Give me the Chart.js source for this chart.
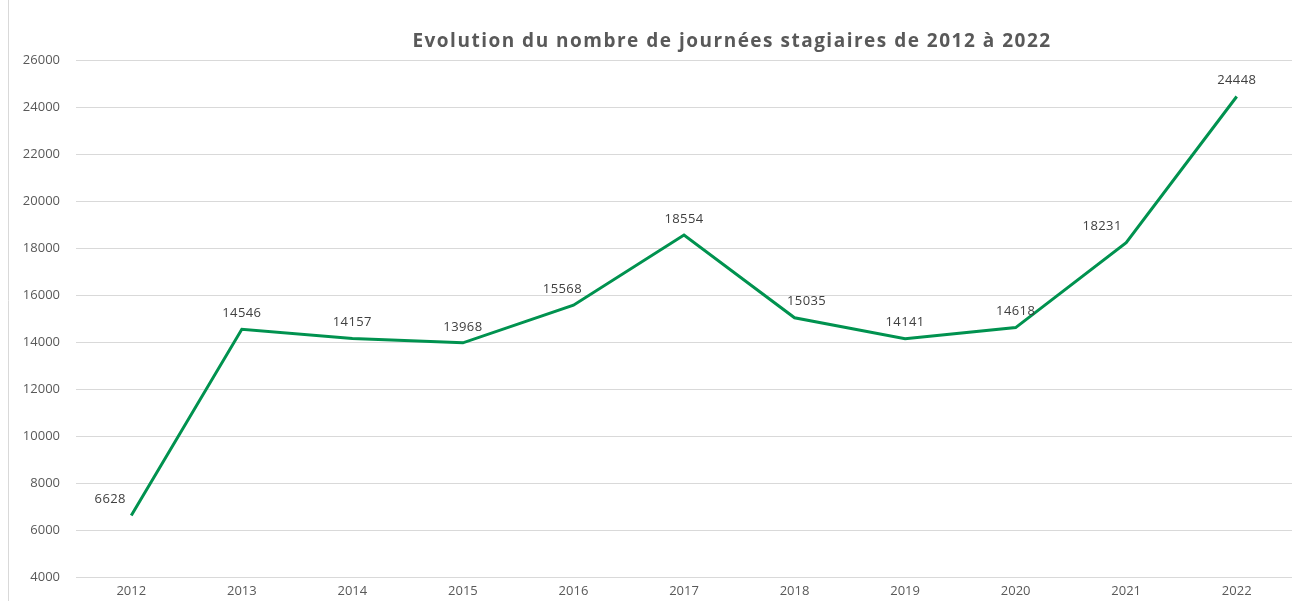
<!DOCTYPE html>
<html>
<head>
<meta charset="utf-8">
<script src="https://cdn.jsdelivr.net/npm/chart.js@4"></script>
<style>
  html, body { margin: 0; padding: 0; background: #fff; }
  #wrap { width: 1300px; height: 601px; }
</style>
</head>
<body>
<div id="wrap"><canvas id="chart" width="1300" height="601"></canvas></div>
<script>
// données
const years = ['2012', '2013', '2014', '2015', '2016', '2017', '2018', '2019', '2020', '2021', '2022'];
const journees = [6628, 14546, 14157, 13968, 15568, 18554, 15035, 14141, 14618, 18231, 24448];
const yTicks = [4000, 6000, 8000, 10000, 12000, 14000, 16000, 18000, 20000, 22000, 24000, 26000];

const titleText = 'Evolution du nombre de journées stagiaires de 2012 à 2022';

// décalage horizontal des étiquettes (comme dans le graphique d'origine)
const labelShift = [-21, 0, 0, 0, -11, 0, 12, 0, 0, -24, 0];

const decorPlugin = {
  id: 'decor',
  beforeDraw(chart) {
    const c = chart.ctx;
    c.save();
    c.strokeStyle = '#d9d9d9';
    c.lineWidth = 1;
    c.beginPath();
    c.moveTo(8.5, 0);
    c.lineTo(8.5, chart.height);
    c.stroke();
    c.restore();
  },
  afterDatasetsDraw(chart) {
    const c = chart.ctx;
    const meta = chart.getDatasetMeta(0);
    c.save();
    c.font = '13px "Open Sans", sans-serif';
    c.fillStyle = '#404040';
    c.textAlign = 'center';
    c.textBaseline = 'middle';
    c.letterSpacing = '0.4px';
    meta.data.forEach((pt, i) => {
      c.fillText(String(journees[i]), pt.x + labelShift[i], pt.y - 16);
    });
    // titre
    c.font = 'bold 19px "Open Sans", sans-serif';
    c.fillStyle = '#595959';
    c.letterSpacing = '1.5px';
    c.fillText(titleText, 732, 42);
    c.restore();
  }
};

const ctx = document.getElementById('chart').getContext('2d');
new Chart(ctx, {
  type: 'line',
  data: {
    labels: years,
    datasets: [{
      data: journees,
      borderColor: '#00924F',
      borderWidth: 3,
      pointRadius: 0,
      tension: 0,
      fill: false
    }]
  },
  options: {
    responsive: false,
    animation: false,
    layout: { padding: { top: 60, right: 8, left: 0, bottom: 0 } },
    plugins: {
      legend: { display: false },
      title: { display: false },
      tooltip: { enabled: false }
    },
    scales: {
      x: {
        offset: true,
        grid: { display: false, drawTicks: false },
        border: { display: false },
        ticks: { color: '#595959', font: { family: 'Open Sans', size: 13 }, padding: 6, maxRotation: 0 },
        afterFit(scale) { scale.height = 23; }
      },
      y: {
        min: 4000,
        max: 26000,
        afterBuildTicks(scale) { scale.ticks = yTicks.map(v => ({ value: v })); },
        grid: { color: '#d9d9d9', drawTicks: false },
        border: { display: false },
        ticks: {
          color: '#595959',
          font: { family: 'Open Sans', size: 13 },
          padding: 16,
          callback: (v) => String(v)
        },
        afterFit(scale) { scale.width = 76; }
      }
    }
  },
  plugins: [decorPlugin]
});
</script>
</body>
</html>
